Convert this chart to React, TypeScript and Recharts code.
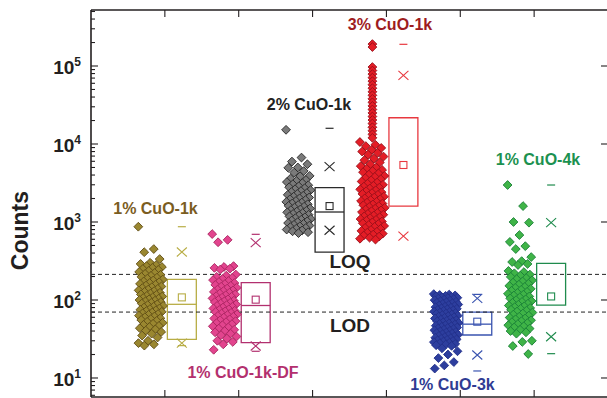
import React from 'react';
import {
  ComposedChart,
  Scatter,
  XAxis,
  YAxis,
  ReferenceArea,
  ReferenceLine,
  ReferenceDot,
} from 'recharts';

// Sample groups, left to right on the category axis
const groups = ['1% CuO-1k', '1% CuO-1k-DF', '2% CuO-1k', '3% CuO-1k', '1% CuO-3k', '1% CuO-4k'];
const groupPos = [1, 2, 3, 4, 5, 6];

// Per-particle counts for each sample
const counts1k = [
  870, 450, 410, 335, 300, 290, 280, 272, 265, 258, 250, 243, 236, 229, 222, 216, 210, 204, 198,
  193, 188, 183, 178, 173, 169, 165, 161, 157, 153, 149, 146, 142, 139, 136, 133, 130, 127, 124,
  121, 118, 116, 113, 111, 108, 106, 104, 102, 100, 98, 96, 94, 92, 90, 88, 86, 84, 82, 80, 78,
  76.5, 75, 73.5, 72, 70.5, 69, 67.5, 66, 64.5, 63, 61.5, 60, 58.5, 57, 55.5, 54, 52.5, 51, 49.5,
  48, 46.5, 45, 43.5, 42, 40.5, 39, 37, 35, 33, 30, 28, 27, 26,
];
const counts1kDF = [
  700, 590, 550, 272, 265, 258, 252, 246, 212, 205, 198, 192, 186, 180, 175, 170, 165, 160, 156,
  152, 148, 144, 140, 136, 133, 130, 127, 124, 121, 118, 115, 112, 110, 107, 105, 102, 100, 98, 96,
  94, 92, 90, 88, 86, 84, 82, 80, 78, 76, 74.5, 73, 71.5, 70, 68.5, 67, 65.5, 64, 62.5, 61, 59.5,
  58, 56.5, 55, 53.5, 52, 50.5, 49, 47.5, 46, 44.5, 43, 41.5, 40, 38.5, 37, 35.5, 34, 32, 30, 29,
  27, 23,
];
const counts2pct1k = [
  15200, 6700, 5950, 5500, 5000, 4950, 4500, 4300, 3900, 3850, 3600, 3450, 3350, 3250, 3150, 3050,
  2960, 2870, 2790, 2710, 2630, 2560, 2490, 2420, 2350, 2290, 2230, 2170, 2110, 2060, 2010, 1960,
  1910, 1860, 1810, 1770, 1730, 1690, 1650, 1610, 1570, 1530, 1490, 1450, 1420, 1390, 1360, 1330,
  1300, 1270, 1240, 1210, 1180, 1150, 1120, 1095, 1070, 1045, 1020, 995, 970, 945, 920, 900, 880,
  860, 840, 820, 800, 780, 760, 740, 720,
];
const counts3pct1k = [
  10600, 9800, 9400, 8900, 8400, 8000, 7700, 7300, 6900, 6500, 6200, 5800, 5500, 5200, 5000, 4800,
  4650, 4500, 4350, 4200, 4050, 3900, 3780, 3650, 3530, 3420, 3310, 3200, 3100, 3000, 2920, 2840,
  2760, 2690, 2620, 2550, 2480, 2410, 2350, 2290, 2230, 2170, 2110, 2060, 2010, 1960, 1910, 1860,
  1815, 1770, 1725, 1680, 1640, 1600, 1560, 1520, 1480, 1445, 1410, 1375, 1340, 1305, 1270, 1240,
  1210, 1180, 1150, 1120, 1090, 1065, 1040, 1015, 990, 965, 940, 915, 890, 865, 840, 815, 790, 770,
  750, 730, 710, 690, 670, 650, 630, 610, 595,
];
// high-count tail of the 3% sample, stacked on the strip centre
const counts3pct1kTail = [
  191000, 175000, 97000, 87400, 78700, 70900, 63900, 57600, 51900, 46700, 42100, 37900, 34200,
  30800, 27700, 25000, 22500, 20300, 18300, 16400, 14800, 13300, 12000,
];
const counts3k = [
  119, 117.5, 116, 114.5, 113, 111.5, 110, 108.5, 107, 105.5, 104, 102.5, 101, 99.5, 98, 96.5, 95,
  93.5, 92, 90.5, 89, 87.5, 86, 85, 83.5, 82, 81, 79.5, 78, 77, 76, 74.5, 73.5, 72.5, 71, 70, 69,
  68, 67, 66, 65, 64, 63, 62, 61, 60, 59, 58, 57, 56, 55, 54, 53.2, 52.4, 51.6, 50.8, 50, 49.2,
  48.4, 47.6, 46.8, 46, 45.2, 44.4, 43.7, 43, 42.3, 41.6, 40.9, 40.2, 39.5, 38.8, 38.2, 37.6, 37,
  36.4, 35.8, 35.2, 34.6, 34, 33.4, 32.8, 32.3, 31.8, 31.3, 30.8, 30.3, 29.8, 29.3, 28.8, 28.3,
  27.8, 27.3, 26.8, 26.3, 25.8, 24, 22, 20, 18, 16, 14.5, 13.2,
];
const counts4k = [
  2980, 1600, 1000, 980, 680, 555, 490, 450, 355, 315, 307, 290, 281, 236, 228, 220, 212, 205, 198,
  191, 185, 179, 173, 167, 162, 157, 152, 147, 143, 139, 135, 131, 127, 123, 120, 117, 114, 111,
  108, 105, 102, 99.5, 97, 94.5, 92, 89.5, 87, 85, 83, 81, 79, 77, 75, 73, 71, 69, 67, 65, 63, 61,
  59.5, 58, 56.5, 55, 53.5, 52, 50.5, 49, 47.5, 46, 44.5, 43, 41.5, 40, 38.5, 37, 30, 29, 25.7,
  20.3,
];

// Box statistics per group (null = not shown)
const q1 = [31.3, 28.4, 412, 1600, 35.6, 86];
const q3 = [184, 167, 2755, 21700, 70, 295];
const median = [88, 85, 1343, null, 49, null];
const mean = [108, 101, 1600, 5380, 52.7, 111];
const p1 = [28, 25.7, 783, 660, 19.7, 33.8];
const p99 = [412, 543, 5120, 76000, 105, 980];
const minCount = [26, 22, null, null, 12.3, 20.5];
const maxCount = [870, 695, 15900, 189700, 118, 2980];

// Detection limits
const LOQ = 213;
const LOD = 70;

const yMajorTicks = [10, 100, 1000, 10000, 100000];

const Y_DOMAIN: [number, number] = [5.705, 522400];
const PX_PER_UNIT = 517 / 7;
const STRIP_OFFSET = -0.19;
const STRIP_WIDTH_PX = 25;
const BOX_L = 0.034;
const BOX_R = 0.426;
const BOX_C = (BOX_L + BOX_R) / 2;
const GOLDEN = 0.6180339887;

const AXIS = '#231f20';
const FONT = 'Arial, "Liberation Sans", Helvetica, sans-serif';

const palette = [
  { fill: '#9a8730', edge: '#5f4c14', box: '#b8ad45', text: '#7b5d1f' },
  { fill: '#e2448e', edge: '#a8245f', box: '#b2306f', text: '#b3306e' },
  { fill: '#7a7a7a', edge: '#262626', box: '#2a2a2a', text: '#222222' },
  { fill: '#e41d26', edge: '#96101a', box: '#e8383f', text: '#9e1c1e' },
  { fill: '#2d3e9e', edge: '#23308a', box: '#3a54b0', text: '#2f3b93' },
  { fill: '#3fb447', edge: '#1a7f38', box: '#1f8b4d', text: '#1c9150' },
];

const groupCounts = [counts1k, counts1kDF, counts2pct1k, counts3pct1k, counts3k, counts4k];

// label anchors: [x on category axis, baseline count]
const labelAnchors: [number, number][] = [
  [0.873, 1268],
  [2.058, 10],
  [2.952, 27300],
  [4.048, 289500],
  [4.894, 7.0],
  [6.052, 5380],
];

const yMinorTicks = yMajorTicks
  .flatMap((d) => [0.6, 0.7, 0.8, 0.9, 2, 3, 4, 5, 6, 7, 8, 9].map((m) => (m < 1 && d > 10 ? NaN : m * d)))
  .filter((v) => v >= Y_DOMAIN[0] && v <= Y_DOMAIN[1]);
const yTicks = [...yMajorTicks, ...yMinorTicks].sort((a, b) => a - b);

// horizontal spread of a strip: golden-ratio sequence over the strip width
const strip = (values: number[], gi: number) =>
  values.map((v, i) => ({
    x: groupPos[gi] + STRIP_OFFSET + (((i * GOLDEN) % 1) - 0.5) * (STRIP_WIDTH_PX / PX_PER_UNIT),
    y: v,
  }));

const diamond = (fill: string, edge: string) => (p: any) => {
  const { cx, cy } = p;
  const r = 4.4;
  return (
    <path
      d={`M${cx},${cy - r}L${cx + r},${cy}L${cx},${cy + r}L${cx - r},${cy}Z`}
      fill={fill}
      stroke={edge}
      strokeWidth={0.9}
    />
  );
};

const markers = groups.flatMap((_, gi) => {
  const x = groupPos[gi] + BOX_C;
  const items = [
    { kind: 'mean', y: mean[gi] },
    { kind: 'cross', y: p1[gi] },
    { kind: 'cross', y: p99[gi] },
    { kind: 'dash', y: minCount[gi] },
    { kind: 'dash', y: maxCount[gi] },
  ];
  return items.filter((m) => m.y != null).map((m) => ({ ...m, x, gi }));
});

function MarkerShape(p: any) {
  const { cx, cy, payload } = p;
  const c = palette[payload.gi].box;
  if (payload.kind === 'mean') {
    return <rect x={cx - 3.5} y={cy - 3.5} width={7} height={7} fill="none" stroke={c} strokeWidth={1.1} />;
  }
  if (payload.kind === 'cross') {
    return (
      <path
        d={`M${cx - 5},${cy - 4.5}L${cx + 5},${cy + 4.5}M${cx - 5},${cy + 4.5}L${cx + 5},${cy - 4.5}`}
        stroke={c}
        strokeWidth={1.1}
        fill="none"
      />
    );
  }
  return <line x1={cx - 4} x2={cx + 4} y1={cy} y2={cy} stroke={c} strokeWidth={1.2} />;
}

function LeftTick(props: any) {
  const { x, y, payload } = props;
  const v = payload.value as number;
  const major = yMajorTicks.includes(v);
  const ax = x + 10;
  return (
    <g>
      <line x1={ax} x2={ax + (major ? 7 : 4)} y1={y} y2={y} stroke={AXIS} strokeWidth={1.1} />
      {major && (
        <text x={x} y={y + 8} textAnchor="end" fontSize={19} fontWeight="bold" fill={AXIS} fontFamily={FONT}>
          10
          <tspan dy={-8} fontSize={12}>
            {Math.round(Math.log10(v))}
          </tspan>
        </text>
      )}
    </g>
  );
}

function RightTick(props: any) {
  const { x, y } = props;
  return <line x1={x} x2={x - 7} y1={y} y2={y} stroke={AXIS} strokeWidth={1.1} />;
}

function BottomTick(props: any) {
  const { x, y } = props;
  return <line x1={x} x2={x} y1={y} y2={y - 7} stroke={AXIS} strokeWidth={1.1} />;
}

function TopTick(props: any) {
  const { x, y } = props;
  return <line x1={x} x2={x} y1={y} y2={y + 7} stroke={AXIS} strokeWidth={1.1} />;
}

function CountsLabel(p: any) {
  const vb = p.viewBox;
  const cx = vb.x + 20;
  const cy = vb.y + vb.height * 0.57;
  return (
    <text
      x={cx}
      y={cy}
      transform={`rotate(-90 ${cx} ${cy})`}
      textAnchor="middle"
      dominantBaseline="central"
      fontSize={23}
      fontWeight="bold"
      fill={AXIS}
      fontFamily={FONT}
    >
      Counts
    </text>
  );
}

const textShape = (text: string, color: string, size: number) => (p: any) => (
  <text x={p.cx} y={p.cy} textAnchor="middle" fontSize={size} fontWeight="bold" fill={color} fontFamily={FONT}>
    {text}
  </text>
);

export default function App() {
  return (
    <div
      style={{
        position: 'absolute',
        left: 0,
        top: 0,
        width: 607,
        height: 398,
        overflow: 'hidden',
        background: '#fff',
        fontFamily: FONT,
      }}
    >
      <ComposedChart width={620} height={410} margin={{ top: 8, right: 6, bottom: 8, left: 0 }}>
        <XAxis
          type="number"
          dataKey="x"
          domain={[0, 7]}
          ticks={groupPos}
          interval={0}
          allowDataOverflow
          height={5}
          tickSize={0}
          tickMargin={0}
          tickLine={false}
          tick={<BottomTick />}
          axisLine={{ stroke: AXIS, strokeWidth: 1.6 }}
        />
        <XAxis
          xAxisId="top"
          orientation="top"
          type="number"
          dataKey="x"
          domain={[0, 7]}
          ticks={groupPos}
          interval={0}
          allowDataOverflow
          height={2}
          tickSize={0}
          tickMargin={0}
          tickLine={false}
          tick={<TopTick />}
          axisLine={{ stroke: AXIS, strokeWidth: 1.6 }}
        />
        <YAxis
          type="number"
          dataKey="y"
          scale="log"
          domain={Y_DOMAIN}
          allowDataOverflow
          ticks={yTicks}
          interval={0}
          width={91}
          tickSize={0}
          tickMargin={10}
          tickLine={false}
          tick={<LeftTick />}
          axisLine={{ stroke: AXIS, strokeWidth: 1.6 }}
          label={{ content: CountsLabel }}
        />
        <YAxis
          yAxisId="right"
          orientation="right"
          type="number"
          dataKey="y"
          scale="log"
          domain={Y_DOMAIN}
          allowDataOverflow
          ticks={yMajorTicks}
          interval={0}
          width={6}
          tickSize={0}
          tickMargin={0}
          tickLine={false}
          tick={<RightTick />}
          axisLine={{ stroke: AXIS, strokeWidth: 1.6 }}
        />

        <ReferenceLine y={LOQ} stroke="#222" strokeWidth={1} strokeDasharray="4 3" />
        <ReferenceLine y={LOD} stroke="#222" strokeWidth={1} strokeDasharray="4 3" />

        {groups.map((g, gi) => (
          <ReferenceArea
            key={`box-${g}`}
            x1={groupPos[gi] + BOX_L}
            x2={groupPos[gi] + BOX_R}
            y1={q1[gi]}
            y2={q3[gi]}
            fill="none"
            fillOpacity={0}
            stroke={palette[gi].box}
            strokeWidth={1.3}
            ifOverflow="visible"
          />
        ))}
        {groups.map((g, gi) =>
          median[gi] == null ? null : (
            <ReferenceLine
              key={`med-${g}`}
              segment={[
                { x: groupPos[gi] + BOX_L, y: median[gi] as number },
                { x: groupPos[gi] + BOX_R, y: median[gi] as number },
              ]}
              stroke={palette[gi].box}
              strokeWidth={1.3}
            />
          ),
        )}

        {groups.map((g, gi) => (
          <Scatter
            key={`pts-${g}`}
            name={g}
            data={strip(groupCounts[gi], gi)}
            shape={diamond(palette[gi].fill, palette[gi].edge)}
            isAnimationActive={false}
          />
        ))}
        <Scatter
          name="3% CuO-1k tail"
          data={counts3pct1kTail.map((v) => ({ x: groupPos[3] + STRIP_OFFSET, y: v }))}
          shape={diamond(palette[3].fill, palette[3].edge)}
          isAnimationActive={false}
        />
        <Scatter name="stats" data={markers} shape={MarkerShape} isAnimationActive={false} />

        {groups.map((g, gi) => (
          <ReferenceDot
            key={`lbl-${g}`}
            x={labelAnchors[gi][0]}
            y={labelAnchors[gi][1]}
            r={0}
            ifOverflow="visible"
            shape={textShape(g, palette[gi].text, 16)}
          />
        ))}
        <ReferenceDot x={3.507} y={257} r={0} ifOverflow="visible" shape={textShape('LOQ', AXIS, 19)} />
        <ReferenceDot x={3.507} y={38.9} r={0} ifOverflow="visible" shape={textShape('LOD', AXIS, 19)} />
      </ComposedChart>
    </div>
  );
}
